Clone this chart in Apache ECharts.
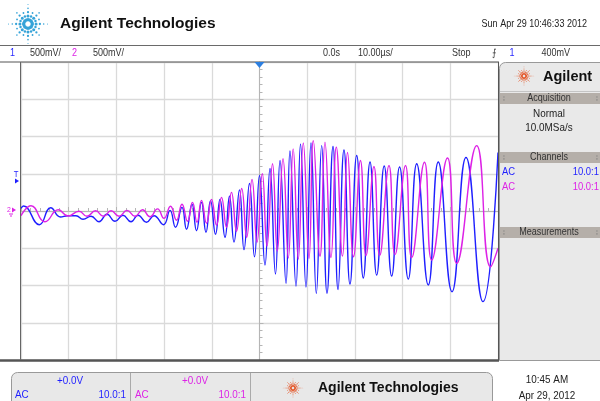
<!DOCTYPE html>
<html><head><meta charset="utf-8">
<script src="https://cdn.jsdelivr.net/npm/echarts/dist/echarts.min.js"></script>
<style>html,body{margin:0;padding:0;background:#fff}#c{width:600px;height:401px}</style>
</head><body><div id="c"></div><script>
// Channel 1 (blue) extrema: time in µs, voltage in V
const ch1Time = [-50.0,-49.48,-46.16,-43.77,-41.72,-40.15,-38.47,-37.00,-35.32,-33.65,-31.97,-30.29,-28.62,-26.94,-25.47,-23.69,-22.12,-20.13,-18.76,-17.61,-16.25,-15.30,-14.15,-13.21,-12.16,-11.22,-10.27,-9.22,-8.28,-7.23,-6.29,-5.35,-4.19,-3.25,-2.10,-1.05,0.0,1.15,2.20,3.35,4.30,5.56,6.39,7.65,8.60,9.75,10.80,11.91,13.04,14.15,15.41,16.46,17.71,18.97,20.38,21.76,23.17,24.57,26.14,27.71,29.37,31.19,32.96,35.39,37.48,40.36,43.29,46.85,50.0];
const ch1Volt = [0.036,0.067,-0.184,0.043,-0.080,-0.064,-0.064,-0.111,-0.071,-0.144,-0.044,-0.138,-0.057,-0.144,-0.057,-0.151,-0.064,-0.184,0.009,-0.218,0.049,-0.245,0.090,-0.265,0.116,-0.285,0.136,-0.311,0.156,-0.352,0.197,-0.418,0.283,-0.519,0.370,-0.615,0.477,-0.726,0.571,-0.846,0.678,-0.971,0.805,-1.007,0.898,-1.020,0.912,-1.104,0.878,-1.104,0.865,-1.053,0.818,-0.980,0.745,-0.900,0.658,-0.860,0.604,-0.873,0.591,-0.913,0.634,-0.993,0.658,-1.083,0.718,-1.217,0.785];
// Channel 2 (magenta) extrema
const ch2Time = [-50.0,-47.90,-44.97,-42.18,-40.15,-37.84,-36.16,-34.38,-32.70,-31.13,-29.45,-27.78,-26.10,-24.53,-22.96,-21.38,-20.02,-18.66,-17.40,-16.25,-15.09,-14.05,-13.10,-12.16,-11.11,-10.06,-9.01,-7.97,-6.92,-5.87,-4.82,-3.73,-2.68,-1.57,-0.52,0.59,1.57,2.73,3.73,4.93,6.04,7.06,8.13,9.18,10.38,11.28,12.68,13.73,14.99,16.10,17.40,18.45,19.71,21.17,22.33,24.00,25.20,27.15,28.41,30.61,31.91,34.59,36.10,39.41,41.34,45.53,48.43,50.0];
const ch2Volt = [-0.064,0.070,-0.144,0.016,-0.067,-0.004,-0.071,0.003,-0.071,0.003,-0.071,0.009,-0.071,0.016,-0.078,0.029,-0.098,0.063,-0.124,0.090,-0.138,0.116,-0.151,0.143,-0.164,0.156,-0.191,0.183,-0.218,0.250,-0.271,0.303,-0.352,0.424,-0.418,0.500,-0.472,0.634,-0.539,0.701,-0.632,0.834,-0.646,0.912,-0.639,0.945,-0.606,0.925,-0.626,0.858,-0.606,0.785,-0.615,0.678,-0.599,0.598,-0.599,0.611,-0.586,0.611,-0.626,0.655,-0.659,0.711,-0.703,0.878,-0.749,-0.499];

const NARROW = "'Liberation Sans','Arial',sans-serif";
const BOLD = "'Liberation Sans',Arial,sans-serif";
const BLUE = '#1f1fff', MAG = '#dd22e6';

function pairs(t, v){ return t.map((x,i)=>[x, v[i]]); }

function spark(cx, cy, s, color){
  const els = [];
  const rings = [[4.5,1.9],[8.5,1.6],[12.5,1.2],[16.5,0.85],[20.5,0.55]];
  for (let i=0;i<16;i++){
    const a = i*Math.PI/8;
    const lvl = (i%4===0) ? 5 : (i%2===0 ? 4 : 3);
    rings.forEach((rg,k)=>{
      if (k>=lvl) return;
      els.push({type:'circle', shape:{cx:cx+Math.cos(a)*rg[0]*s, cy:cy+Math.sin(a)*rg[0]*s, r:rg[1]*s*(i%2?0.8:1)}, style:{fill:color}, silent:true});
    });
  }
  return els;
}
function txt(x,y,text,fill,size,align,font,weight,sx){
  return {type:'text', x:x, y:y, silent:true, z:100, scaleX:(sx===undefined?0.86:sx),
    style:{text:text, fill:fill, font:(weight||'normal')+' '+size+'px '+(font||NARROW), textAlign:align||'left', textVerticalAlign:'middle'}};
}
function bar(y,label){
  return [
    {type:'rect', shape:{x:500, y:y, width:100, height:11}, style:{fill:'#b5afa9'}, silent:true, z:50},
    txt(549, y+5.5, label, '#333', 10.5, 'center'),
    txt(503, y+5.5, '⁞', '#777', 8, 'left'),
    txt(596, y+5.5, '⁞', '#777', 8, 'left')
  ];
}

let g = [];
g.push({type:'line', shape:{x1:0,y1:45.5,x2:600,y2:45.5}, style:{stroke:'#6a6a6a', lineWidth:1}, silent:true});
g.push({type:'line', shape:{x1:0,y1:62,x2:499,y2:62}, style:{stroke:'#555', lineWidth:1}, silent:true, z:60});
g.push({type:'line', shape:{x1:0,y1:360.5,x2:499,y2:360.5}, style:{stroke:'#555', lineWidth:2.5}, silent:true, z:60});
g.push({type:'line', shape:{x1:20.5,y1:62,x2:20.5,y2:360}, style:{stroke:'#666', lineWidth:1}, silent:true, z:60});
g.push({type:'line', shape:{x1:498.5,y1:62,x2:498.5,y2:360}, style:{stroke:'#555', lineWidth:1}, silent:true, z:60});
g = g.concat(spark(28, 24, 0.95, '#35a3d8'));
g.push(txt(60, 24, 'Agilent Technologies', '#111', 15.5, 'left', BOLD, 'bold', 1));
g.push(txt(587, 24, 'Sun Apr 29 10:46:33 2012', '#222', 10.5, 'right'));
g.push(txt(10, 53.5, '1', BLUE, 10.5));
g.push(txt(30, 53.5, '500mV/', '#333', 10.5));
g.push(txt(72, 53.5, '2', MAG, 10.5));
g.push(txt(93, 53.5, '500mV/', '#333', 10.5));
g.push(txt(340, 53.5, '0.0s', '#333', 10.5, 'right'));
g.push(txt(358, 53.5, '10.00µs/', '#333', 10.5));
g.push(txt(452, 53.5, 'Stop', '#333', 10.5));
g.push(txt(494, 53.5, '⨍', '#333', 10, 'center'));
g.push(txt(512, 53.5, '1', BLUE, 10.5, 'center'));
g.push(txt(570, 53.5, '400mV', '#333', 10.5, 'right'));
g.push({type:'polygon', shape:{points:[[254.5,62],[264.5,62],[259.5,68]]}, style:{fill:'#2c7fe0'}, silent:true, z:70});
g.push(txt(16, 175, 'T', BLUE, 9, 'center'));
g.push({type:'polygon', shape:{points:[[15,178.5],[15,183.5],[19,181]]}, style:{fill:BLUE}, silent:true, z:70});
g.push(txt(9, 210, '2', MAG, 8, 'center'));
g.push({type:'polygon', shape:{points:[[12,207.5],[12,212.5],[16,210]]}, style:{fill:MAG}, silent:true, z:70});
g.push({type:'line', shape:{x1:9,y1:214,x2:13,y2:214}, style:{stroke:MAG, lineWidth:1}, silent:true, z:70});
g.push({type:'line', shape:{x1:10,y1:216,x2:12,y2:216}, style:{stroke:MAG, lineWidth:1}, silent:true, z:70});
g.push({type:'rect', shape:{x:499.5, y:62.5, width:101, height:298, r:[6,0,0,0]}, style:{fill:'#e9e9e9', stroke:'#999', lineWidth:1}, silent:true, z:40});
g = g.concat(spark(524, 76, 0.48, '#e4582a').map(e=>Object.assign(e,{z:55})));
g.push(txt(543, 77, 'Agilent', '#111', 14.5, 'left', BOLD, 'bold', 1));
g.push({type:'line', shape:{x1:500,y1:91.5,x2:600,y2:91.5}, style:{stroke:'#c4c4c4', lineWidth:1}, silent:true, z:50});
g = g.concat(bar(93, 'Acquisition'));
g.push(txt(549, 114, 'Normal', '#222', 11.5, 'center'));
g.push(txt(549, 128, '10.0MSa/s', '#222', 11.5, 'center'));
g = g.concat(bar(152, 'Channels'));
g.push(txt(502, 172, 'AC', BLUE, 11));
g.push(txt(599, 172, '10.0:1', BLUE, 11, 'right'));
g.push(txt(502, 187, 'AC', MAG, 11));
g.push(txt(599, 187, '10.0:1', MAG, 11, 'right'));
g = g.concat(bar(227, 'Measurements'));
g.push({type:'rect', shape:{x:11.5, y:372.5, width:481, height:35, r:[6,6,0,0]}, style:{fill:'#e8e8e8', stroke:'#999', lineWidth:1}, silent:true, z:40});
g.push({type:'line', shape:{x1:130.5,y1:373,x2:130.5,y2:401}, style:{stroke:'#aaa', lineWidth:1}, silent:true, z:50});
g.push({type:'line', shape:{x1:250.5,y1:373,x2:250.5,y2:401}, style:{stroke:'#aaa', lineWidth:1}, silent:true, z:50});
g.push(txt(70, 381, '+0.0V', BLUE, 11.5, 'center'));
g.push(txt(15, 395, 'AC', BLUE, 11.5));
g.push(txt(126, 395, '10.0:1', BLUE, 11.5, 'right'));
g.push(txt(195, 381, '+0.0V', MAG, 11.5, 'center'));
g.push(txt(135, 395, 'AC', MAG, 11.5));
g.push(txt(246, 395, '10.0:1', MAG, 11.5, 'right'));
g = g.concat(spark(293, 388, 0.48, '#e4582a').map(e=>Object.assign(e,{z:55})));
g.push(txt(318, 388, 'Agilent Technologies', '#111', 14, 'left', BOLD, 'bold', 1));
g.push(txt(547, 380, '10:45 AM', '#222', 11.5, 'center'));
g.push(txt(547, 396, 'Apr 29, 2012', '#222', 11.5, 'center'));

const chart = echarts.init(document.getElementById('c'), null, {renderer:'canvas'});
chart.setOption({
  animation:false,
  backgroundColor:'#fff',
  grid:{left:21, top:62, width:477, height:298, show:false},
  xAxis:{type:'value', min:-50, max:50, interval:10,
    axisLine:{show:true, onZero:true, lineStyle:{color:'#b5b5b5', width:1}},
    axisTick:{show:true, inside:true, length:4, lineStyle:{color:'#b5b5b5'}},
    minorTick:{show:true, splitNumber:5, length:3, lineStyle:{color:'#b5b5b5'}},
    axisLabel:{show:false},
    splitLine:{show:true, lineStyle:{color:'#dadada', width:1.3}}},
  yAxis:{type:'value', min:-2, max:2, interval:0.5,
    axisLine:{show:true, onZero:true, lineStyle:{color:'#b5b5b5', width:1}},
    axisTick:{show:true, inside:true, length:4, lineStyle:{color:'#b5b5b5'}},
    minorTick:{show:true, splitNumber:5, length:3, lineStyle:{color:'#b5b5b5'}},
    axisLabel:{show:false},
    splitLine:{show:true, lineStyle:{color:'#dadada', width:1.3}}},
  series:[
    {name:'1', type:'line', data:pairs(ch1Time, ch1Volt), smooth:0.5, showSymbol:false,
      lineStyle:{color:BLUE, width:1.4}, z:3},
    {name:'2', type:'line', data:pairs(ch2Time, ch2Volt), smooth:0.5, showSymbol:false,
      lineStyle:{color:MAG, width:1.4}, z:4}
  ],
  graphic:g
});
</script></body></html>
